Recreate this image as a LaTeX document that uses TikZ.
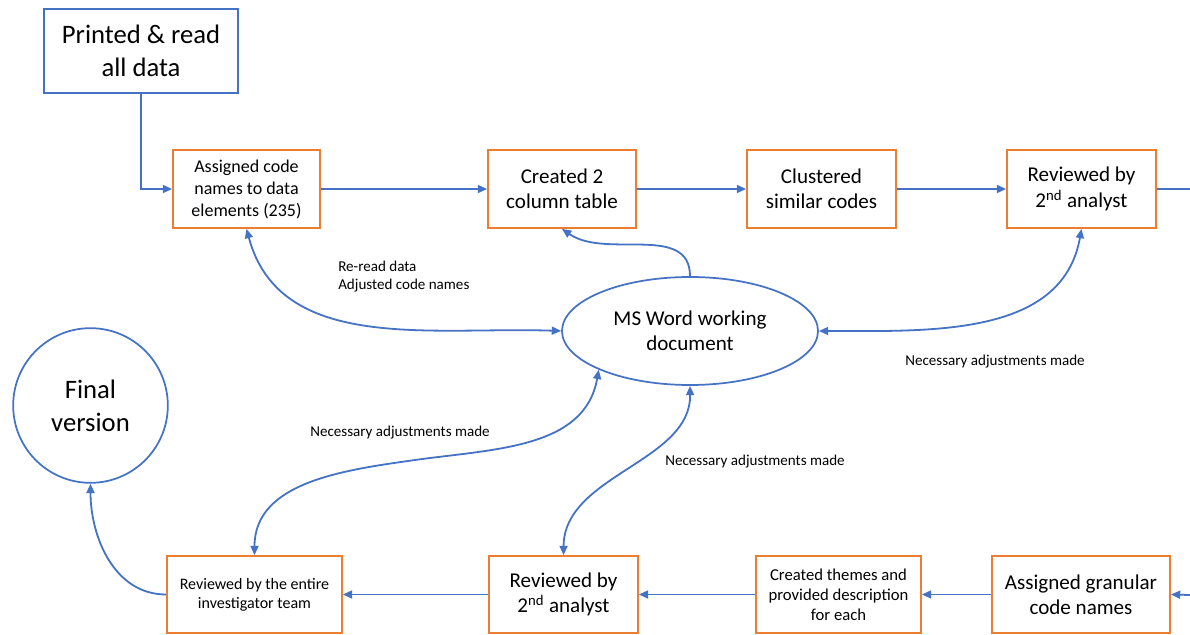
\documentclass[tikz,border=0pt]{standalone}
\usepackage{fontspec}
\setmainfont{Carlito}
\usetikzlibrary{arrows.meta,shapes.geometric}
\definecolor{oblue}{HTML}{4472C4}
\definecolor{oorange}{HTML}{ED7D31}
\begin{document}
\begin{tikzpicture}[x=0.75pt,y=-0.75pt,
  obox/.style={draw=oorange, line width=1.3pt, align=center, inner sep=2pt, text=black, minimum height=58.5pt},
  bbox/.style={draw=oblue, line width=1.3pt, align=center, inner sep=2pt, text=black},
  conn/.style={draw=oblue, line width=1.35pt},
  arr/.style={conn, -{Triangle[length=7pt,width=6pt]}},
  darr/.style={conn, {Triangle[length=7pt,width=6pt]}-{Triangle[length=7pt,width=6pt]}},
  fbig/.style={font=\fontsize{20}{24.75}\selectfont},
  fmid/.style={font=\fontsize{15.8}{19}\selectfont},
  fsma/.style={font=\fontsize{13.5}{16.5}\selectfont},
  fsmb/.style={font=\fontsize{12.5}{15}\selectfont},
  fsmc/.style={font=\fontsize{12}{14.3}\selectfont},
  flab/.style={font=\fontsize{11.3}{13.5}\selectfont, align=left, inner sep=0pt},
]
\useasboundingbox (0,0) rectangle (1190,635);

% top row
\node[bbox, fbig, minimum width=145.5pt, minimum height=63pt] (P) at (141,51) {Printed \& read\\all data};
\node[obox, fsma, minimum width=110.25pt] (A) at (246.5,189) {Assigned code\\names to data\\elements (235)};
\node[obox, fmid, minimum width=111pt] (B) at (562,189) {Created 2\\column table};
\node[obox, fmid, minimum width=111.75pt] (C) at (821.5,189) {Clustered\\similar codes};
\node[obox, fmid, minimum width=111.75pt] (D) at (1081.5,189) {Reviewed by\\2\textsuperscript{nd} analyst};

% centre
\node[draw=oblue, line width=1.3pt, ellipse, minimum width=192pt, minimum height=81pt, inner sep=0pt, fmid, align=center] (W) at (690,331) {MS Word working\\document};
\node[draw=oblue, line width=1.3pt, circle, minimum size=116pt, inner sep=0pt, fbig, align=center] (Fin) at (90.5,405.5) {Final\\version};

% bottom row
\node[obox, fsmc, minimum width=131.25pt, minimum height=57.75pt] (E) at (254.5,594.5) {Reviewed by the entire\\investigator team};
\node[obox, fmid, minimum width=111.75pt, minimum height=57.75pt] (F) at (563.5,594.5) {Reviewed by\\2\textsuperscript{nd} analyst};
\node[obox, fsmb, minimum width=123.75pt, minimum height=57.75pt] (G) at (838.5,594.5) {Created themes and\\provided description\\for each};
\node[obox, fmid, minimum width=133.5pt, minimum height=57.75pt] (H) at (1081,594.5) {Assigned granular\\code names};

\coordinate (TR) at (1190,189);
\coordinate (BR) at (1190,595);
\coordinate (M1) at (415,460);

% straight connectors
\draw[arr] (P.south) |- (A.west);
\draw[arr] (A) -- (B);
\draw[arr] (B) -- (C);
\draw[arr] (C) -- (D);
\draw[conn] (D.east) -- (TR);
\draw[arr] (BR) -- (H.east);
\draw[arr] (H) -- (G);
\draw[arr] (G) -- (F);
\draw[arr] (F) -- (E);

% curved connectors
\draw[arr] (E.west) to[out=180,in=-90] (Fin.south);
\draw[darr] (A.south) to[out=-75,in=178] (W.west);
\draw[arr] (W.north) to[out=90,in=-35] (B.south);
\draw[darr] (W.east) to[out=0,in=-100] (D.south);
\draw[darr] (E.north) to[out=90,in=188] (M1) to[out=8,in=-100] (W.203);
\draw[darr] (F.north) .. controls (564,475) and (691,462) .. (W.south);

% labels
\node[flab, anchor=west] (L1) at (338,277) {Re-read data\\Adjusted code names};
\node[flab] (L2) at (995,362) {Necessary adjustments made};
\node[flab] (L3) at (400,433) {Necessary adjustments made};
\node[flab] (L4) at (755,462) {Necessary adjustments made};
\end{tikzpicture}
\end{document}
